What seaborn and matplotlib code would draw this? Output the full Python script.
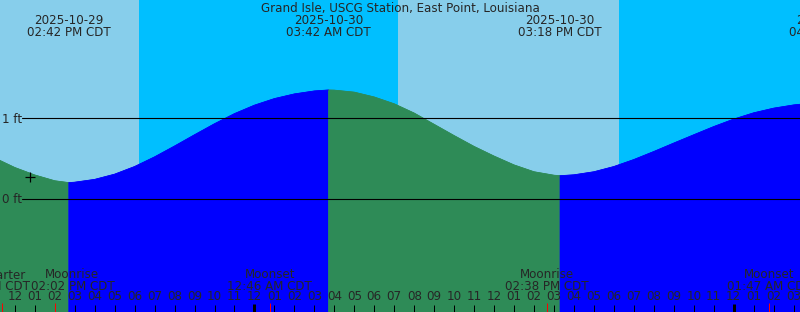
import numpy as np
import pandas as pd
import matplotlib
matplotlib.use("Agg")
import matplotlib.pyplot as plt
import matplotlib.transforms as mtransforms
import seaborn as sns

# ---------------- data ----------------
title = "Grand Isle, USCG Station, East Point, Louisiana"

# hourly water level (ft), starting 2025-10-29 11:00 CDT
hourly_start = "2025-10-29 11:00"
hourly_heights = [0.506, 0.388, 0.295, 0.223, 0.205, 0.240, 0.305, 0.400,
                  0.520, 0.655, 0.795, 0.932, 1.058, 1.163, 1.245, 1.303,
                  1.340, 1.350, 1.325, 1.265, 1.180, 1.065, 0.925, 0.785,
                  0.650, 0.530, 0.420, 0.335, 0.292, 0.297, 0.335, 0.400,
                  0.487, 0.587, 0.692, 0.795, 0.897, 0.990, 1.068, 1.126,
                  1.166, 1.192]

# high / low tide events
tide_event_times = ["2025-10-29 14:42", "2025-10-30 03:42",
                    "2025-10-30 15:18", "2025-10-31 04:53"]
tide_event_heights = [0.20, 1.352, 0.286, 1.21]
tide_event_kinds = ["low", "high", "low", "high"]

# sun events (day / night shading)
sun_times = ["2025-10-29 18:13", "2025-10-30 07:11", "2025-10-30 18:14"]
sun_kinds = ["sunset", "sunrise", "sunset"]

# moon events
moon_times = ["2025-10-29 11:21", "2025-10-29 14:02", "2025-10-30 00:46",
              "2025-10-30 14:38", "2025-10-31 01:47"]
moon_names = ["First Quarter", "Moonrise", "Moonset", "Moonrise", "Moonset"]

# "+" mark
mark_time = "2025-10-29 12:46"
mark_height = 0.27

datum_levels = [0, 1]
datum_labels = ["0 ft", "1 ft"]

view_start = "2025-10-29 11:15:32"
view_end = "2025-10-31 03:19:08"

# ---------------- style ----------------
sns.set_style("white")
plt.rcParams["font.family"] = ["DejaVu Sans"]
FS = 8.6
W, H = 800, 312
DAY = "#87CEEB"
NIGHT = "#00BFFF"
FALL = "#2E8B57"
RISE = "#0000FF"
PX = 0.72  # one pixel in points at dpi 100

fig = plt.figure(figsize=(W / 100, H / 100), dpi=100)
ax = fig.add_axes([0, 0, 1, 1])
ax.set_facecolor(DAY)
for s in ax.spines.values():
    s.set_visible(False)
ax.set_xticks([])
ax.set_yticks([])

t0 = pd.Timestamp(view_start)
t1 = pd.Timestamp(view_end)
ax.set_xlim(t0, t1)
ax.set_ylim((198.7 - 312) / 80.4, 198.7 / 80.4)

blend = mtransforms.blended_transform_factory(ax.transData, ax.transAxes)


def ypx(p):
    return 1 - p / H


# ---------------- day / night ----------------
sun_ts = [pd.Timestamp(s) for s in sun_times]
edges = [t0] + sun_ts + [t1]
state = "day" if sun_kinds[0] == "sunset" else "night"
for a, b in zip(edges[:-1], edges[1:]):
    if state == "night":
        ax.axvspan(a, b, color=NIGHT, lw=0, zorder=0)
    state = "night" if state == "day" else "day"

# ---------------- water level ----------------
hourly_t = pd.date_range(hourly_start, periods=len(hourly_heights), freq="h")
df = pd.concat([
    pd.DataFrame({"time": hourly_t, "height": hourly_heights}),
    pd.DataFrame({"time": pd.to_datetime(tide_event_times), "height": tide_event_heights}),
]).drop_duplicates("time").sort_values("time").reset_index(drop=True)

ev_ts = list(pd.to_datetime(tide_event_times))
bounds = [df["time"].iloc[0]] + ev_ts
first_phase = "falling" if tide_event_kinds[0] == "low" else "rising"
seg_frames = []
phase = first_phase
for i, (a, b) in enumerate(zip(bounds[:-1], bounds[1:])):
    seg = df[(df["time"] >= a) & (df["time"] <= b)].copy()
    seg["segment"] = i
    seg["phase"] = phase
    seg_frames.append(seg)
    ax.fill_between(seg["time"], seg["height"], -5,
                    color=FALL if phase == "falling" else RISE,
                    lw=0.4, zorder=1)
    phase = "rising" if phase == "falling" else "falling"
segs = pd.concat(seg_frames)

sns.lineplot(data=segs, x="time", y="height", hue="phase", units="segment",
             estimator=None, palette={"falling": FALL, "rising": RISE},
             lw=0.6, legend=False, ax=ax, zorder=2)
ax.set_xlabel("")
ax.set_ylabel("")
ax.set_xlim(t0, t1)

# datum lines and labels
for lev, lab in zip(datum_levels, datum_labels):
    ax.axhline(lev, xmin=22 / W, xmax=1, color="black", lw=PX * 1.1, zorder=3)
    ax.text(2.5 / W, lev, lab, fontsize=FS, ha="left", va="baseline",
            transform=mtransforms.blended_transform_factory(ax.transAxes, ax.transData)
            + mtransforms.ScaledTranslation(0, -4.4 / 100, fig.dpi_scale_trans),
            zorder=4)

# "+" mark
ax.plot([pd.Timestamp(mark_time)], [mark_height], marker="+", ms=6.8,
        mew=PX * 1.2, color="black", zorder=4)

# ---------------- title and tide event labels ----------------
ax.text(0.5, ypx(11.7), title, transform=ax.transAxes, ha="center",
        va="baseline", fontsize=FS, zorder=5)
for tt in ev_ts:
    ax.text(tt, ypx(24), tt.strftime("%Y-%m-%d"), transform=blend,
            ha="center", va="baseline", fontsize=FS, zorder=5, clip_on=False)
    ax.text(tt, ypx(36), tt.strftime("%I:%M %p CDT"), transform=blend,
            ha="center", va="baseline", fontsize=FS, zorder=5, clip_on=False)

# ---------------- hour ticks ----------------
hours = pd.date_range(t0.ceil("h"), t1, freq="h")
for hh in hours:
    midnight = hh.hour == 0
    ax.vlines(hh, ypx(312), ypx(304 if midnight else 304.5), transform=blend,
              color="black", lw=PX * (3 if midnight else 1), zorder=3)
    ax.text(hh, ypx(300.3), hh.strftime("%I"), transform=blend, ha="center",
            va="baseline", fontsize=FS, zorder=5)

# ---------------- moon events ----------------
moon_ts = [pd.Timestamp(m) for m in moon_times]
label_shift_px = [-14, 17, 0, 0, 0]  # overlap avoidance
for mt, name, sh in zip(moon_ts, moon_names, label_shift_px):
    ax.vlines(mt, ypx(312), ypx(303.3), transform=blend, color="#FF0000",
              lw=PX, zorder=3.5)
    tr = blend + mtransforms.ScaledTranslation(sh / 100, 0, fig.dpi_scale_trans)
    ax.text(mt, ypx(278.3), name, transform=tr, ha="center", va="baseline",
            fontsize=FS, zorder=5)
    ax.text(mt, ypx(290), mt.strftime("%I:%M %p CDT"), transform=tr,
            ha="center", va="baseline", fontsize=FS, zorder=5)

fig.savefig("out.png", dpi=100)
